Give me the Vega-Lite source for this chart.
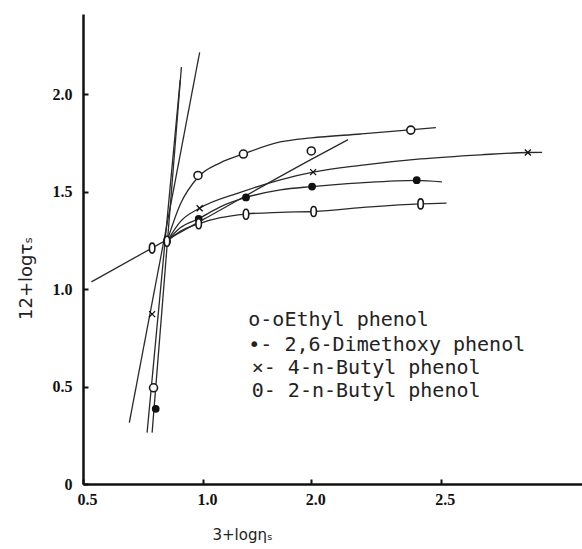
{
  "$schema": "https://vega.github.io/schema/vega-lite/v6.json",
  "width": 499,
  "height": 470,
  "autosize": {"type": "none"},
  "padding": {"left": 83, "top": 14, "right": 0, "bottom": 65},
  "background": "white",
  "config": {"view": {"stroke": null}},
  "datasets": {
    "lines": [
      {"id": "E", "o": 1, "x": 0.850, "y": 1.246}, {"id": "E", "o": 2, "x": 0.905, "y": 1.435}, {"id": "E", "o": 3, "x": 0.979, "y": 1.575}, {"id": "E", "o": 4, "x": 1.160, "y": 1.649}, {"id": "E", "o": 5, "x": 1.375, "y": 1.695}, {"id": "E", "o": 6, "x": 1.714, "y": 1.756}, {"id": "E", "o": 7, "x": 2.0, "y": 1.777}, {"id": "E", "o": 8, "x": 2.19, "y": 1.797}, {"id": "E", "o": 9, "x": 2.38, "y": 1.818}, {"id": "E", "o": 10, "x": 2.481, "y": 1.830},
      {"id": "X", "o": 1, "x": 0.850, "y": 1.246}, {"id": "X", "o": 2, "x": 0.905, "y": 1.346}, {"id": "X", "o": 3, "x": 0.986, "y": 1.416}, {"id": "X", "o": 4, "x": 1.344, "y": 1.497}, {"id": "X", "o": 5, "x": 1.714, "y": 1.562}, {"id": "X", "o": 6, "x": 2.007, "y": 1.601}, {"id": "X", "o": 7, "x": 2.19, "y": 1.636}, {"id": "X", "o": 8, "x": 2.422, "y": 1.669}, {"id": "X", "o": 9, "x": 2.655, "y": 1.690}, {"id": "X", "o": 10, "x": 2.836, "y": 1.702}, {"id": "X", "o": 11, "x": 2.891, "y": 1.703},
      {"id": "D", "o": 1, "x": 0.850, "y": 1.246}, {"id": "D", "o": 2, "x": 0.905, "y": 1.315}, {"id": "D", "o": 3, "x": 0.982, "y": 1.362}, {"id": "D", "o": 4, "x": 1.160, "y": 1.423}, {"id": "D", "o": 5, "x": 1.397, "y": 1.471}, {"id": "D", "o": 6, "x": 1.714, "y": 1.510}, {"id": "D", "o": 7, "x": 2.003, "y": 1.527}, {"id": "D", "o": 8, "x": 2.19, "y": 1.546}, {"id": "D", "o": 9, "x": 2.407, "y": 1.559}, {"id": "D", "o": 10, "x": 2.504, "y": 1.551},
      {"id": "O", "o": 1, "x": 0.850, "y": 1.246}, {"id": "O", "o": 2, "x": 0.905, "y": 1.297}, {"id": "O", "o": 3, "x": 0.982, "y": 1.336}, {"id": "O", "o": 4, "x": 1.160, "y": 1.367}, {"id": "O", "o": 5, "x": 1.397, "y": 1.386}, {"id": "O", "o": 6, "x": 1.714, "y": 1.395}, {"id": "O", "o": 7, "x": 2.009, "y": 1.399}, {"id": "O", "o": 8, "x": 2.229, "y": 1.423}, {"id": "O", "o": 9, "x": 2.422, "y": 1.438}, {"id": "O", "o": 10, "x": 2.522, "y": 1.442},
      {"id": "S", "o": 1, "x": 0.535, "y": 1.038}, {"id": "S", "o": 2, "x": 1.0, "y": 1.357}, {"id": "S", "o": 3, "x": 2.0, "y": 1.667}, {"id": "S", "o": 4, "x": 2.142, "y": 1.768},
      {"id": "SE", "o": 1, "x": 0.788, "y": 0.264}, {"id": "SE", "o": 2, "x": 0.910, "y": 2.141},
      {"id": "SD", "o": 1, "x": 0.767, "y": 0.264}, {"id": "SD", "o": 2, "x": 0.905, "y": 2.074},
      {"id": "SX", "o": 1, "x": 0.693, "y": 0.315}, {"id": "SX", "o": 2, "x": 0.986, "y": 2.216}
    ],
    "ethyl": [
      {"x": 0.794, "y": 0.494}, {"x": 0.979, "y": 1.584}, {"x": 1.373, "y": 1.694}, {"x": 2.0, "y": 1.710}, {"x": 2.384, "y": 1.817}
    ],
    "dimethoxy": [
      {"x": 0.803, "y": 0.386}, {"x": 0.850, "y": 1.246}, {"x": 0.982, "y": 1.361}, {"x": 1.397, "y": 1.471}, {"x": 2.003, "y": 1.527}, {"x": 2.407, "y": 1.560}
    ],
    "butyl4": [
      {"x": 0.788, "y": 0.872}, {"x": 0.986, "y": 1.416}, {"x": 2.007, "y": 1.601}, {"x": 2.836, "y": 1.702}
    ],
    "butyl2": [
      {"x": 0.788, "y": 1.211}, {"x": 0.850, "y": 1.246}, {"x": 0.982, "y": 1.336}, {"x": 1.397, "y": 1.385}, {"x": 2.009, "y": 1.399}, {"x": 2.422, "y": 1.438}
    ],
    "legend": [
      {"label": "o-oEthyl phenol", "x": 1.418, "y": 0.844},
      {"label": "•- 2,6-Dimethoxy phenol", "x": 1.418, "y": 0.715},
      {"label": "×- 4-n-Butyl phenol", "x": 1.45, "y": 0.597},
      {"label": "0- 2-n-Butyl phenol", "x": 1.45, "y": 0.476}
    ]
  },
  "encoding": {
    "x": {
      "field": "x", "type": "quantitative",
      "scale": {"domain": [0.5, 1.0, 2.0, 3.045], "range": [0, 120, 228.3, 499], "nice": false, "zero": false},
      "axis": {
        "values": [0.5, 1.0, 2.0, 2.5], "format": ".1f", "grid": false,
        "labelFont": "Liberation Serif", "labelFontWeight": "bold", "labelFontSize": 16, "labelColor": "#111",
        "labelOffset": 4, "labelPadding": 12, "labelFlush": false,
        "domainColor": "#111", "domainWidth": 2.5, "tickColor": "#111", "tickWidth": 2, "tickSize": -5,
        "title": "3+logηₛ", "titleFont": "DejaVu Sans", "titleFontSize": 15, "titleFontWeight": "normal", "titleColor": "#222",
        "titleX": 159, "titleY": 55, "titleBaseline": "alphabetic", "titleAlign": "center"
      }
    },
    "y": {
      "field": "y", "type": "quantitative",
      "scale": {"domain": [0, 2.413], "nice": false, "zero": false},
      "axis": {
        "values": [0, 0.5, 1.0, 1.5, 2.0], "labelExpr": "datum.value == 0 ? '0' : format(datum.value, '.1f')", "grid": false,
        "labelFont": "Liberation Serif", "labelFontWeight": "bold", "labelFontSize": 16, "labelColor": "#111",
        "labelPadding": 16, "labelFlush": false,
        "domainColor": "#111", "domainWidth": 2.5, "tickColor": "#111", "tickWidth": 2, "tickSize": -5,
        "title": "12+logτₛ", "titleFont": "DejaVu Sans", "titleFontSize": 18, "titleFontWeight": "normal", "titleColor": "#222",
        "titleX": -57, "titleY": 264, "titleAngle": -90, "titleBaseline": "middle", "titleAlign": "center"
      }
    }
  },
  "layer": [
    {
      "data": {"name": "lines"},
      "mark": {"type": "line", "interpolate": "monotone", "color": "#2a2a2a", "strokeWidth": 1.3},
      "encoding": {"detail": {"field": "id"}, "order": {"field": "o", "type": "quantitative"}}
    },
    {
      "data": {"name": "ethyl"},
      "mark": {"type": "point", "shape": "circle", "filled": false, "color": "#1a1a1a", "fill": "white", "fillOpacity": 1, "strokeWidth": 1.6, "size": 64, "opacity": 1}
    },
    {
      "data": {"name": "dimethoxy"},
      "mark": {"type": "point", "shape": "circle", "filled": true, "color": "#111", "size": 60, "opacity": 1}
    },
    {
      "data": {"name": "butyl4"},
      "mark": {"type": "point", "shape": "M-1,-1L1,1M1,-1L-1,1", "filled": false, "color": "#111", "strokeWidth": 1.3, "size": 36, "opacity": 1}
    },
    {
      "data": {"name": "butyl2"},
      "mark": {"type": "point", "shape": "M-0.55,0A0.55,1 0 1,1 0.55,0A0.55,1 0 1,1 -0.55,0Z", "filled": false, "color": "#1a1a1a", "fill": "white", "fillOpacity": 1, "strokeWidth": 1.6, "size": 100, "opacity": 1}
    },
    {
      "data": {"name": "legend"},
      "mark": {"type": "text", "align": "left", "baseline": "middle", "font": "DejaVu Sans Mono", "fontSize": 20, "color": "#222"},
      "encoding": {"text": {"field": "label"}}
    },
    {
      "data": {"values": [{}]},
      "mark": {"type": "rule", "color": "#111", "strokeWidth": 2.5},
      "encoding": {"y": {"datum": 2.413}, "x": null}
    }
  ]
}
